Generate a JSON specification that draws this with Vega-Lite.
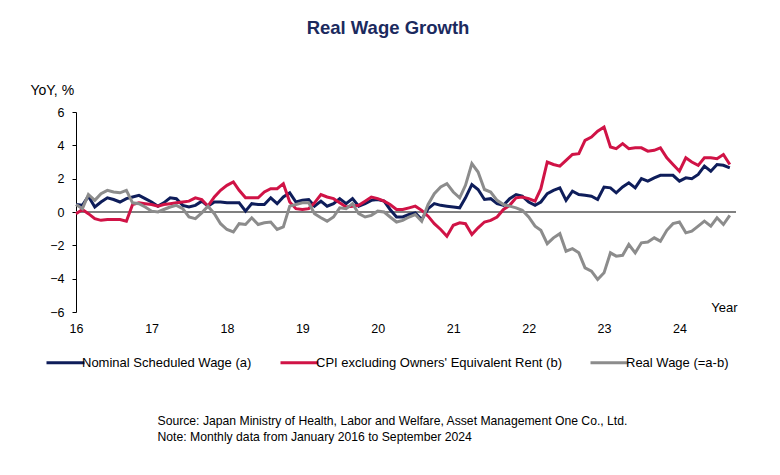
{
  "$schema": "https://vega.github.io/schema/vega-lite/v6.json",
  "width": 660,
  "height": 200,
  "autosize": {"type": "none"},
  "padding": {"left": 76, "top": 112, "right": 44, "bottom": 163},
  "background": "white",
  "config": {"view": {"stroke": null}, "font": "Liberation Sans"},
  "title": {"text": "Real Wage Growth", "fontSize": 18.5, "fontWeight": "bold", "color": "#1B2A5E", "font": "Liberation Sans", "anchor": "middle", "dx": -18, "dy": -42},
  "data": {
    "format": {"parse": {"t": "utc:'%Y-%m'"}},
    "values": [
      {"t":"2016-01","s":"a","v":0.45},{"t":"2016-02","s":"a","v":0.4},{"t":"2016-03","s":"a","v":0.95},{"t":"2016-04","s":"a","v":0.3},{"t":"2016-05","s":"a","v":0.6},{"t":"2016-06","s":"a","v":0.85},{"t":"2016-07","s":"a","v":0.75},{"t":"2016-08","s":"a","v":0.6},{"t":"2016-09","s":"a","v":0.8},{"t":"2016-10","s":"a","v":0.9},{"t":"2016-11","s":"a","v":1.0},{"t":"2016-12","s":"a","v":0.8},
      {"t":"2017-01","s":"a","v":0.6},{"t":"2017-02","s":"a","v":0.35},{"t":"2017-03","s":"a","v":0.55},{"t":"2017-04","s":"a","v":0.85},{"t":"2017-05","s":"a","v":0.8},{"t":"2017-06","s":"a","v":0.4},{"t":"2017-07","s":"a","v":0.3},{"t":"2017-08","s":"a","v":0.4},{"t":"2017-09","s":"a","v":0.65},{"t":"2017-10","s":"a","v":0.35},{"t":"2017-11","s":"a","v":0.6},{"t":"2017-12","s":"a","v":0.6},
      {"t":"2018-01","s":"a","v":0.55},{"t":"2018-02","s":"a","v":0.55},{"t":"2018-03","s":"a","v":0.55},{"t":"2018-04","s":"a","v":0.05},{"t":"2018-05","s":"a","v":0.5},{"t":"2018-06","s":"a","v":0.45},{"t":"2018-07","s":"a","v":0.45},{"t":"2018-08","s":"a","v":0.85},{"t":"2018-09","s":"a","v":0.5},{"t":"2018-10","s":"a","v":0.9},{"t":"2018-11","s":"a","v":1.15},{"t":"2018-12","s":"a","v":0.6},
      {"t":"2019-01","s":"a","v":0.7},{"t":"2019-02","s":"a","v":0.75},{"t":"2019-03","s":"a","v":0.35},{"t":"2019-04","s":"a","v":0.65},{"t":"2019-05","s":"a","v":0.35},{"t":"2019-06","s":"a","v":0.5},{"t":"2019-07","s":"a","v":0.8},{"t":"2019-08","s":"a","v":0.5},{"t":"2019-09","s":"a","v":0.8},{"t":"2019-10","s":"a","v":0.35},{"t":"2019-11","s":"a","v":0.5},{"t":"2019-12","s":"a","v":0.7},
      {"t":"2020-01","s":"a","v":0.75},{"t":"2020-02","s":"a","v":0.65},{"t":"2020-03","s":"a","v":0.15},{"t":"2020-04","s":"a","v":-0.3},{"t":"2020-05","s":"a","v":-0.3},{"t":"2020-06","s":"a","v":-0.15},{"t":"2020-07","s":"a","v":-0.05},{"t":"2020-08","s":"a","v":-0.45},{"t":"2020-09","s":"a","v":0.2},{"t":"2020-10","s":"a","v":0.5},{"t":"2020-11","s":"a","v":0.4},{"t":"2020-12","s":"a","v":0.35},
      {"t":"2021-01","s":"a","v":0.3},{"t":"2021-02","s":"a","v":0.25},{"t":"2021-03","s":"a","v":0.85},{"t":"2021-04","s":"a","v":1.65},{"t":"2021-05","s":"a","v":1.35},{"t":"2021-06","s":"a","v":0.75},{"t":"2021-07","s":"a","v":0.8},{"t":"2021-08","s":"a","v":0.5},{"t":"2021-09","s":"a","v":0.4},{"t":"2021-10","s":"a","v":0.8},{"t":"2021-11","s":"a","v":1.05},{"t":"2021-12","s":"a","v":0.95},
      {"t":"2022-01","s":"a","v":0.6},{"t":"2022-02","s":"a","v":0.4},{"t":"2022-03","s":"a","v":0.6},{"t":"2022-04","s":"a","v":1.1},{"t":"2022-05","s":"a","v":1.3},{"t":"2022-06","s":"a","v":1.45},{"t":"2022-07","s":"a","v":0.7},{"t":"2022-08","s":"a","v":1.25},{"t":"2022-09","s":"a","v":1.05},{"t":"2022-10","s":"a","v":1.0},{"t":"2022-11","s":"a","v":0.95},{"t":"2022-12","s":"a","v":0.75},
      {"t":"2023-01","s":"a","v":1.5},{"t":"2023-02","s":"a","v":1.45},{"t":"2023-03","s":"a","v":1.15},{"t":"2023-04","s":"a","v":1.5},{"t":"2023-05","s":"a","v":1.75},{"t":"2023-06","s":"a","v":1.45},{"t":"2023-07","s":"a","v":2.0},{"t":"2023-08","s":"a","v":1.85},{"t":"2023-09","s":"a","v":2.05},{"t":"2023-10","s":"a","v":2.2},{"t":"2023-11","s":"a","v":2.2},{"t":"2023-12","s":"a","v":2.2},
      {"t":"2024-01","s":"a","v":1.85},{"t":"2024-02","s":"a","v":2.05},{"t":"2024-03","s":"a","v":2.0},{"t":"2024-04","s":"a","v":2.25},{"t":"2024-05","s":"a","v":2.75},{"t":"2024-06","s":"a","v":2.45},{"t":"2024-07","s":"a","v":2.85},{"t":"2024-08","s":"a","v":2.8},{"t":"2024-09","s":"a","v":2.65},

      {"t":"2016-01","s":"b","v":-0.1},{"t":"2016-02","s":"b","v":0.15},{"t":"2016-03","s":"b","v":-0.1},{"t":"2016-04","s":"b","v":-0.4},{"t":"2016-05","s":"b","v":-0.5},{"t":"2016-06","s":"b","v":-0.45},{"t":"2016-07","s":"b","v":-0.45},{"t":"2016-08","s":"b","v":-0.45},{"t":"2016-09","s":"b","v":-0.55},{"t":"2016-10","s":"b","v":0.45},{"t":"2016-11","s":"b","v":0.55},{"t":"2016-12","s":"b","v":0.5},
      {"t":"2017-01","s":"b","v":0.45},{"t":"2017-02","s":"b","v":0.35},{"t":"2017-03","s":"b","v":0.45},{"t":"2017-04","s":"b","v":0.5},{"t":"2017-05","s":"b","v":0.55},{"t":"2017-06","s":"b","v":0.6},{"t":"2017-07","s":"b","v":0.65},{"t":"2017-08","s":"b","v":0.85},{"t":"2017-09","s":"b","v":0.75},{"t":"2017-10","s":"b","v":0.35},{"t":"2017-11","s":"b","v":0.9},{"t":"2017-12","s":"b","v":1.3},
      {"t":"2018-01","s":"b","v":1.6},{"t":"2018-02","s":"b","v":1.8},{"t":"2018-03","s":"b","v":1.3},{"t":"2018-04","s":"b","v":0.85},{"t":"2018-05","s":"b","v":0.85},{"t":"2018-06","s":"b","v":0.85},{"t":"2018-07","s":"b","v":1.2},{"t":"2018-08","s":"b","v":1.4},{"t":"2018-09","s":"b","v":1.4},{"t":"2018-10","s":"b","v":1.7},{"t":"2018-11","s":"b","v":0.6},{"t":"2018-12","s":"b","v":0.2},
      {"t":"2019-01","s":"b","v":0.15},{"t":"2019-02","s":"b","v":0.2},{"t":"2019-03","s":"b","v":0.55},{"t":"2019-04","s":"b","v":1.05},{"t":"2019-05","s":"b","v":0.9},{"t":"2019-06","s":"b","v":0.8},{"t":"2019-07","s":"b","v":0.55},{"t":"2019-08","s":"b","v":0.3},{"t":"2019-09","s":"b","v":0.35},{"t":"2019-10","s":"b","v":0.4},{"t":"2019-11","s":"b","v":0.65},{"t":"2019-12","s":"b","v":0.9},
      {"t":"2020-01","s":"b","v":0.8},{"t":"2020-02","s":"b","v":0.65},{"t":"2020-03","s":"b","v":0.45},{"t":"2020-04","s":"b","v":0.15},{"t":"2020-05","s":"b","v":0.15},{"t":"2020-06","s":"b","v":0.25},{"t":"2020-07","s":"b","v":0.35},{"t":"2020-08","s":"b","v":0.1},{"t":"2020-09","s":"b","v":-0.25},{"t":"2020-10","s":"b","v":-0.7},{"t":"2020-11","s":"b","v":-1.05},{"t":"2020-12","s":"b","v":-1.45},
      {"t":"2021-01","s":"b","v":-0.8},{"t":"2021-02","s":"b","v":-0.65},{"t":"2021-03","s":"b","v":-0.7},{"t":"2021-04","s":"b","v":-1.35},{"t":"2021-05","s":"b","v":-0.95},{"t":"2021-06","s":"b","v":-0.6},{"t":"2021-07","s":"b","v":-0.5},{"t":"2021-08","s":"b","v":-0.3},{"t":"2021-09","s":"b","v":0.15},{"t":"2021-10","s":"b","v":0.4},{"t":"2021-11","s":"b","v":0.85},{"t":"2021-12","s":"b","v":0.9},
      {"t":"2022-01","s":"b","v":0.8},{"t":"2022-02","s":"b","v":0.65},{"t":"2022-03","s":"b","v":1.4},{"t":"2022-04","s":"b","v":3.0},{"t":"2022-05","s":"b","v":2.85},{"t":"2022-06","s":"b","v":2.75},{"t":"2022-07","s":"b","v":3.1},{"t":"2022-08","s":"b","v":3.45},{"t":"2022-09","s":"b","v":3.5},{"t":"2022-10","s":"b","v":4.3},{"t":"2022-11","s":"b","v":4.5},{"t":"2022-12","s":"b","v":4.85},
      {"t":"2023-01","s":"b","v":5.1},{"t":"2023-02","s":"b","v":3.9},{"t":"2023-03","s":"b","v":3.8},{"t":"2023-04","s":"b","v":4.1},{"t":"2023-05","s":"b","v":3.8},{"t":"2023-06","s":"b","v":3.85},{"t":"2023-07","s":"b","v":3.85},{"t":"2023-08","s":"b","v":3.65},{"t":"2023-09","s":"b","v":3.7},{"t":"2023-10","s":"b","v":3.85},{"t":"2023-11","s":"b","v":3.25},{"t":"2023-12","s":"b","v":2.85},
      {"t":"2024-01","s":"b","v":2.45},{"t":"2024-02","s":"b","v":3.25},{"t":"2024-03","s":"b","v":3.0},{"t":"2024-04","s":"b","v":2.8},{"t":"2024-05","s":"b","v":3.25},{"t":"2024-06","s":"b","v":3.25},{"t":"2024-07","s":"b","v":3.2},{"t":"2024-08","s":"b","v":3.45},{"t":"2024-09","s":"b","v":2.85},

      {"t":"2016-01","s":"r","v":0.45},{"t":"2016-02","s":"r","v":0.2},{"t":"2016-03","s":"r","v":1.05},{"t":"2016-04","s":"r","v":0.7},{"t":"2016-05","s":"r","v":1.1},{"t":"2016-06","s":"r","v":1.3},{"t":"2016-07","s":"r","v":1.2},{"t":"2016-08","s":"r","v":1.15},{"t":"2016-09","s":"r","v":1.3},{"t":"2016-10","s":"r","v":0.55},{"t":"2016-11","s":"r","v":0.5},{"t":"2016-12","s":"r","v":0.3},
      {"t":"2017-01","s":"r","v":0.05},{"t":"2017-02","s":"r","v":0.0},{"t":"2017-03","s":"r","v":0.15},{"t":"2017-04","s":"r","v":0.3},{"t":"2017-05","s":"r","v":0.4},{"t":"2017-06","s":"r","v":0.2},{"t":"2017-07","s":"r","v":-0.3},{"t":"2017-08","s":"r","v":-0.4},{"t":"2017-09","s":"r","v":-0.05},{"t":"2017-10","s":"r","v":0.35},{"t":"2017-11","s":"r","v":-0.1},{"t":"2017-12","s":"r","v":-0.7},
      {"t":"2018-01","s":"r","v":-1.05},{"t":"2018-02","s":"r","v":-1.2},{"t":"2018-03","s":"r","v":-0.7},{"t":"2018-04","s":"r","v":-0.75},{"t":"2018-05","s":"r","v":-0.35},{"t":"2018-06","s":"r","v":-0.75},{"t":"2018-07","s":"r","v":-0.65},{"t":"2018-08","s":"r","v":-0.6},{"t":"2018-09","s":"r","v":-1.05},{"t":"2018-10","s":"r","v":-0.9},{"t":"2018-11","s":"r","v":0.35},{"t":"2018-12","s":"r","v":0.45},
      {"t":"2019-01","s":"r","v":0.55},{"t":"2019-02","s":"r","v":0.55},{"t":"2019-03","s":"r","v":-0.1},{"t":"2019-04","s":"r","v":-0.35},{"t":"2019-05","s":"r","v":-0.55},{"t":"2019-06","s":"r","v":-0.3},{"t":"2019-07","s":"r","v":0.25},{"t":"2019-08","s":"r","v":0.2},{"t":"2019-09","s":"r","v":0.5},{"t":"2019-10","s":"r","v":-0.1},{"t":"2019-11","s":"r","v":-0.3},{"t":"2019-12","s":"r","v":-0.2},
      {"t":"2020-01","s":"r","v":0.05},{"t":"2020-02","s":"r","v":0.0},{"t":"2020-03","s":"r","v":-0.3},{"t":"2020-04","s":"r","v":-0.6},{"t":"2020-05","s":"r","v":-0.5},{"t":"2020-06","s":"r","v":-0.3},{"t":"2020-07","s":"r","v":-0.15},{"t":"2020-08","s":"r","v":-0.55},{"t":"2020-09","s":"r","v":0.45},{"t":"2020-10","s":"r","v":1.1},{"t":"2020-11","s":"r","v":1.5},{"t":"2020-12","s":"r","v":1.7},
      {"t":"2021-01","s":"r","v":1.2},{"t":"2021-02","s":"r","v":0.85},{"t":"2021-03","s":"r","v":1.6},{"t":"2021-04","s":"r","v":2.9},{"t":"2021-05","s":"r","v":2.4},{"t":"2021-06","s":"r","v":1.35},{"t":"2021-07","s":"r","v":1.2},{"t":"2021-08","s":"r","v":0.7},{"t":"2021-09","s":"r","v":0.45},{"t":"2021-10","s":"r","v":0.35},{"t":"2021-11","s":"r","v":0.25},{"t":"2021-12","s":"r","v":0.1},
      {"t":"2022-01","s":"r","v":-0.3},{"t":"2022-02","s":"r","v":-0.85},{"t":"2022-03","s":"r","v":-1.1},{"t":"2022-04","s":"r","v":-1.9},{"t":"2022-05","s":"r","v":-1.55},{"t":"2022-06","s":"r","v":-1.3},{"t":"2022-07","s":"r","v":-2.35},{"t":"2022-08","s":"r","v":-2.2},{"t":"2022-09","s":"r","v":-2.45},{"t":"2022-10","s":"r","v":-3.35},{"t":"2022-11","s":"r","v":-3.55},{"t":"2022-12","s":"r","v":-4.05},
      {"t":"2023-01","s":"r","v":-3.65},{"t":"2023-02","s":"r","v":-2.45},{"t":"2023-03","s":"r","v":-2.65},{"t":"2023-04","s":"r","v":-2.6},{"t":"2023-05","s":"r","v":-1.95},{"t":"2023-06","s":"r","v":-2.45},{"t":"2023-07","s":"r","v":-1.85},{"t":"2023-08","s":"r","v":-1.8},{"t":"2023-09","s":"r","v":-1.55},{"t":"2023-10","s":"r","v":-1.75},{"t":"2023-11","s":"r","v":-1.1},{"t":"2023-12","s":"r","v":-0.7},
      {"t":"2024-01","s":"r","v":-0.6},{"t":"2024-02","s":"r","v":-1.25},{"t":"2024-03","s":"r","v":-1.15},{"t":"2024-04","s":"r","v":-0.85},{"t":"2024-05","s":"r","v":-0.55},{"t":"2024-06","s":"r","v":-0.85},{"t":"2024-07","s":"r","v":-0.35},{"t":"2024-08","s":"r","v":-0.75},{"t":"2024-09","s":"r","v":-0.2}
    ]
  },
  "layer": [
    {
      "mark": {"type": "rule", "color": "#808080", "strokeWidth": 2},
      "encoding": {
        "y": {
          "datum": 0,
          "type": "quantitative",
          "scale": {"domain": [-6, 6]},
          "axis": {
            "orient": "right",
            "domain": false,
            "ticks": false,
            "labels": false,
            "grid": false,
            "title": ["Source: Japan Ministry of Health, Labor and Welfare,  Asset Management One Co., Ltd.", "Note:  Monthly data from January 2016 to September 2024"],
            "titleAngle": 0,
            "titleAlign": "left",
            "titleBaseline": "top",
            "titleX": -579,
            "titleY": 302,
            "titleFontSize": 12.2,
            "titleFontWeight": "normal",
            "titleColor": "#000000",
            "titleLineHeight": 16,
            "titleFont": "Liberation Sans"
          }
        }
      }
    },
    {
      "mark": {"type": "line", "strokeWidth": 3},
      "encoding": {
        "x": {
          "field": "t",
          "type": "temporal",
          "scale": {"type": "utc", "domain": [{"year": 2016, "month": 1, "date": 1, "utc": true}, {"year": 2024, "month": 10, "date": 1, "utc": true}]},
          "axis": {
            "orient": "bottom",
            "values": [
              {"year": 2016, "month": 1, "date": 1, "utc": true},
              {"year": 2017, "month": 1, "date": 1, "utc": true},
              {"year": 2018, "month": 1, "date": 1, "utc": true},
              {"year": 2019, "month": 1, "date": 1, "utc": true},
              {"year": 2020, "month": 1, "date": 1, "utc": true},
              {"year": 2021, "month": 1, "date": 1, "utc": true},
              {"year": 2022, "month": 1, "date": 1, "utc": true},
              {"year": 2023, "month": 1, "date": 1, "utc": true},
              {"year": 2024, "month": 1, "date": 1, "utc": true}
            ],
            "format": "%y",
            "domain": false,
            "ticks": false,
            "tickSize": 0,
            "grid": false,
            "labelFlush": false,
            "labelAlign": "center",
            "labelFontSize": 12.5,
            "labelColor": "#000000",
            "labelPadding": 10,
            "title": "Year",
            "titleAlign": "right",
            "titleBaseline": "alphabetic",
            "titleX": 661,
            "titleY": -1,
            "titleFontSize": 13,
            "titleFontWeight": "normal",
            "titleColor": "#000000"
          }
        },
        "y": {
          "field": "v",
          "type": "quantitative",
          "scale": {"domain": [-6, 6]},
          "axis": {
            "orient": "left",
            "values": [-6, -4, -2, 0, 2, 4, 6],
            "domain": true,
            "domainColor": "#000000",
            "domainWidth": 1,
            "ticks": true,
            "tickColor": "#000000",
            "tickSize": 4,
            "grid": false,
            "labelFontSize": 12.5,
            "labelColor": "#000000",
            "labelPadding": 8,
            "title": "YoY, %",
            "titleAngle": 0,
            "titleAlign": "left",
            "titleBaseline": "middle",
            "titleX": -46,
            "titleY": -22,
            "titleFontSize": 14,
            "titleFontWeight": "normal",
            "titleColor": "#000000"
          }
        },
        "color": {
          "field": "s",
          "type": "nominal",
          "scale": {"domain": ["a", "b", "r"], "range": ["#0E1D5A", "#D01346", "#8C8C8C"]},
          "legend": {
            "orient": "none",
            "legendX": -31,
            "legendY": 230,
            "direction": "horizontal",
            "columns": 3,
            "title": null,
            "symbolType": "stroke",
            "symbolStrokeWidth": 3,
            "symbolSize": 1444,
            "labelFontSize": 13,
            "labelOffset": -4,
            "labelColor": "#000000",
            "labelLimit": 400,
            "columnPadding": 22,
            "labelExpr": "datum.label == 'a' ? 'Nominal Scheduled Wage (a)' : datum.label == 'b' ? \"CPI excluding Owners' Equivalent Rent (b)\" : 'Real Wage (=a-b)'"
          }
        }
      }
    }
  ],
  "resolve": {"axis": {"y": "independent"}}
}
